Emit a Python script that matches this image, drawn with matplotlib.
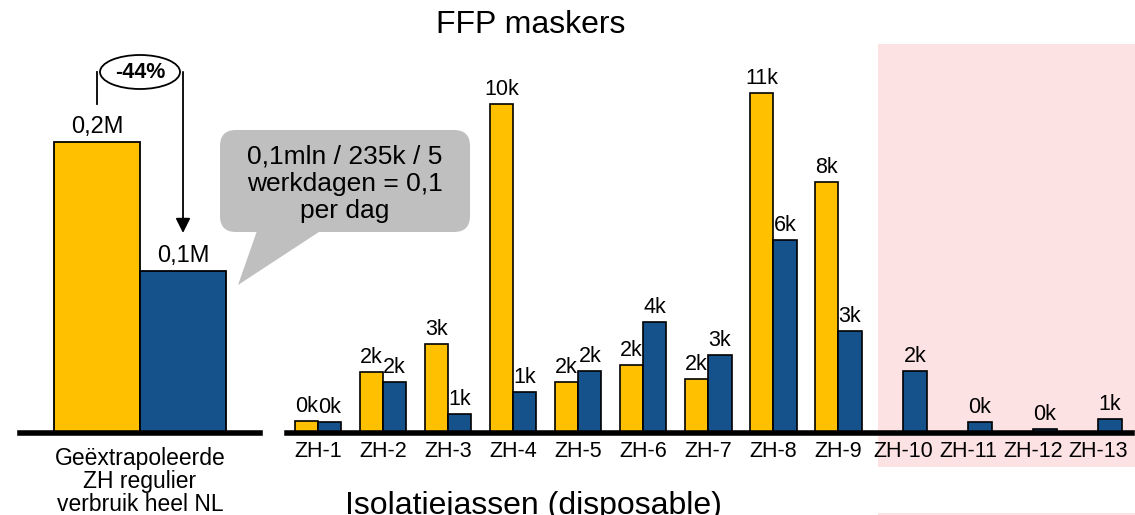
import matplotlib
matplotlib.use("Agg")
import matplotlib.pyplot as plt
from matplotlib.patches import Rectangle, FancyBboxPatch, Polygon, Ellipse
from matplotlib.transforms import Affine2D

plt.rcParams['font.family'] = ['Liberation Sans', 'DejaVu Sans']

# data
nl_values = [0.18, 0.10]          # miljoen
nl_labels = ["0,2M", "0,1M"]
nl_category = "Geëxtrapoleerde\nZH regulier\nverbruik heel NL"

hospitals = ["ZH-1", "ZH-2", "ZH-3", "ZH-4", "ZH-5", "ZH-6", "ZH-7",
             "ZH-8", "ZH-9", "ZH-10", "ZH-11", "ZH-12", "ZH-13"]
ffp = [0.38, 1.92, 2.80, 10.35, 1.60, 2.14, 1.70, 10.70, 7.90, 0, 0, 0, 0]
jassen = [0.35, 1.60, 0.60, 1.29, 1.95, 3.50, 2.45, 6.07, 3.20, 1.95, 0.35, 0.13, 0.44]
ffp_labels = ["0k", "2k", "3k", "10k", "2k", "2k", "2k", "11k", "8k", "", "", "", ""]
jassen_labels = ["0k", "2k", "1k", "1k", "2k", "4k", "3k", "6k", "3k", "2k", "0k", "0k", "1k"]

yellow = "#FFC000"
blue = "#15518A"
pink = "#FDE2E4"
W, H = 1135, 515

fig = plt.figure(figsize=(W / 100, H / 100), dpi=100)
px = Affine2D().scale(1 / W, -1 / H).translate(0, 1) + fig.transFigure

# red-ish area behind the last hospitals
fig.patches.append(Rectangle((878, 44), 260, 423, transform=px,
                             facecolor=pink, edgecolor="none", zorder=-5))
fig.patches.append(Rectangle((878, 513), 260, 5, transform=px,
                             facecolor=pink, edgecolor="none", zorder=-5))

# left panel
ax1 = fig.add_axes([20 / W, 82 / H, 240 / W, 393 / H])
ax1.patch.set_alpha(0)
ax1.bar([0, 1], nl_values, width=1.0, color=[yellow, blue],
        edgecolor="black", linewidth=1.3)
for x, v, lab in zip([0, 1], nl_values, nl_labels):
    ax1.annotate(lab, (x, v), xytext=(0, 3), textcoords="offset points",
                 ha="center", va="bottom", fontsize=17)
ax1.set_xlim(-0.895, 1.895)
ax1.set_ylim(0, 0.243)
ax1.set_xticks([0.5])
ax1.set_xticklabels([nl_category], fontsize=16.5, linespacing=1.0)
ax1.tick_params(axis="x", length=0, pad=10)
ax1.set_yticks([])
for s in ["left", "right", "top"]:
    ax1.spines[s].set_visible(False)
ax1.spines["bottom"].set_linewidth(4)

# -44% bracket
ax1.plot([0, 0], [0.2035, 0.2233], color="black", lw=1.3, clip_on=False)
ax1.annotate("", xy=(1.0, 0.1237), xytext=(1.0, 0.2233),
             arrowprops=dict(arrowstyle="-|>", color="black", lw=1.3,
                             mutation_scale=22, shrinkA=0, shrinkB=0))
fig.patches.append(Ellipse((140, 72), 80, 34, transform=px, facecolor="white",
                           edgecolor="black", lw=1.3, zorder=5))
fig.text(140 / W, 1 - 72 / H, "-44%", ha="center", va="center",
         fontsize=15.5, fontweight="bold", zorder=6)

# speech bubble
fig.patches.append(FancyBboxPatch((220, 130), 250, 102, transform=px,
                                  boxstyle="round,pad=0,rounding_size=16",
                                  facecolor="#BFBFBF", edgecolor="none", zorder=3))
fig.patches.append(Polygon([(258, 228), (325, 228), (238, 285)], closed=True,
                           transform=px, facecolor="#BFBFBF", edgecolor="none", zorder=3))
fig.text(345 / W, 1 - 184 / H, "0,1mln / 235k / 5\nwerkdagen = 0,1\nper dag",
         ha="center", va="center", fontsize=19, linespacing=1.17, zorder=4)

# right panel
ax2 = fig.add_axes([287 / W, 82 / H, 845 / W, 393 / H])
ax2.patch.set_alpha(0)
pos = list(range(len(hospitals)))
bw = 0.36
ax2.bar([p - bw / 2 for p in pos], ffp, width=bw, color=yellow,
        edgecolor="black", linewidth=1.2)
ax2.bar([p + bw / 2 for p in pos], jassen, width=bw, color=blue,
        edgecolor="black", linewidth=1.2)
for p, v, lab in zip(pos, ffp, ffp_labels):
    if lab:
        ax2.annotate(lab, (p - bw / 2, v), xytext=(0, 3), textcoords="offset points",
                     ha="center", va="bottom", fontsize=15.5)
for p, v, lab in zip(pos, jassen, jassen_labels):
    ax2.annotate(lab, (p + bw / 2, v), xytext=(0, 3), textcoords="offset points",
                 ha="center", va="bottom", fontsize=15.5)
ax2.set_xlim(-0.477, 12.52)
ax2.set_ylim(0, 12.36)
ax2.set_xticks(pos)
ax2.set_xticklabels(hospitals, fontsize=15.5)
ax2.tick_params(axis="x", length=0, pad=6)
ax2.set_yticks([])
for s in ["left", "right", "top"]:
    ax2.spines[s].set_visible(False)
ax2.spines["bottom"].set_linewidth(4)

fig.text(531 / W, 1 - 25 / H, "FFP maskers", ha="center", va="center", fontsize=23)
fig.text(533 / W, 1 - 514 / H, "Isolatiejassen (disposable)", ha="center",
         va="baseline", fontsize=23)

fig.savefig("out.png", dpi=100)
